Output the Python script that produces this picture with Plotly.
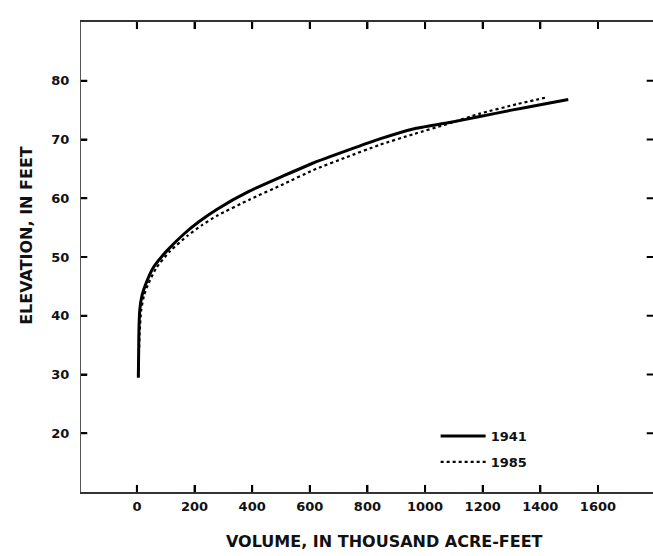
import plotly.graph_objects as go

# Data (volume in thousand acre-feet, elevation in feet)
vol_1941 = [5, 6, 7, 10, 18, 30, 57, 103, 165, 215, 277, 392, 508, 612, 728, 843, 959, 1075, 1190, 1300, 1400, 1497]
elev_1941 = [29.5, 33.5, 37.5, 41.0, 43.5, 45.3, 48.2, 51.0, 54.0, 56.0, 58.1, 61.25, 63.8, 66.0, 68.1, 70.1, 71.8, 72.8, 73.9, 75.0, 75.9, 76.8]

vol_1985 = [5, 7, 10, 15, 25, 40, 68, 115, 175, 225, 277, 392, 508, 612, 728, 843, 959, 1075, 1190, 1317, 1416]
elev_1985 = [29.5, 33.5, 37.5, 41.0, 43.5, 45.5, 48.2, 51.0, 53.6, 55.4, 57.0, 59.8, 62.4, 64.8, 67.0, 69.1, 70.9, 72.6, 74.4, 76.0, 77.1]

x_ticks = [0, 200, 400, 600, 800, 1000, 1200, 1400, 1600]
y_ticks = [20, 30, 40, 50, 60, 70, 80]
x_range = [-194, 1791]
y_range = [10, 90]

FONT = "DejaVu Sans"
INK = "#000000"

fig = go.Figure()
fig.add_trace(go.Scatter(x=vol_1941, y=elev_1941, mode="lines", name="1941",
                         line=dict(color=INK, width=3, shape="spline", smoothing=0.5),
                         legendgroup="a"))
fig.add_trace(go.Scatter(x=vol_1985, y=elev_1985, mode="lines", name="1985",
                         line=dict(color=INK, width=2.2, dash="dot", shape="spline", smoothing=0.5),
                         legendgroup="b"))

tickfont = dict(family=FONT, size=13, color="#111111", weight="bold")
tick_line = dict(color=INK, width=2)

# Inward tick marks on all four sides, placed through the axes at the tick values
TX = 0.015   # tick length as a fraction of the plot height
TY = 0.011   # tick length as a fraction of the plot width
tick_shapes = []
for v in x_ticks:
    tick_shapes.append(dict(type="line", xref="x", yref="paper",
                            x0=v, x1=v, y0=0, y1=TX, line=tick_line, layer="above"))
    tick_shapes.append(dict(type="line", xref="x", yref="paper",
                            x0=v, x1=v, y0=1, y1=1 - TX, line=tick_line, layer="above"))
for v in y_ticks:
    tick_shapes.append(dict(type="line", xref="paper", yref="y",
                            x0=0, x1=TY, y0=v, y1=v, line=tick_line, layer="above"))
    tick_shapes.append(dict(type="line", xref="paper", yref="y",
                            x0=1 - TY, x1=1, y0=v, y1=v, line=tick_line, layer="above"))

fig.update_layout(
    template="none",
    width=653, height=556,
    margin=dict(l=81, r=0, t=22, b=64),
    paper_bgcolor="white", plot_bgcolor="white",
    showlegend=True,
    legend=dict(x=0.62, y=0.151, xanchor="left", yanchor="top",
                font=dict(family=FONT, size=13, color="#111111", weight="bold"),
                bgcolor="rgba(0,0,0,0)", itemwidth=45, tracegroupgap=6),
    xaxis=dict(range=x_range, tickmode="array", tickvals=x_ticks,
               ticks="inside", ticklen=7, tickwidth=2, tickcolor=INK,
               showline=True, mirror="ticks", linecolor="#333333", linewidth=1.5,
               showgrid=False, zeroline=False, tickfont=tickfont, ticklabelstandoff=2),
    yaxis=dict(range=y_range, tickmode="array", tickvals=y_ticks,
               ticks="inside", ticklen=6, tickwidth=2, tickcolor=INK,
               showline=True, mirror=False, linecolor="#555555", linewidth=1.2,
               showgrid=False, zeroline=False, tickfont=tickfont, ticklabelstandoff=8),
    shapes=tick_shapes,
    annotations=[
        dict(text="VOLUME, IN THOUSAND ACRE-FEET", xref="paper", yref="paper",
             x=0.53, y=-0.106, xanchor="center", yanchor="middle", showarrow=False,
             font=dict(family=FONT, size=16, color="#111111", weight="bold")),
        dict(text="ELEVATION, IN FEET", xref="paper", yref="paper",
             x=-0.0944, y=0.545, xanchor="center", yanchor="middle", showarrow=False,
             textangle=-90,
             font=dict(family=FONT, size=16, color="#111111", weight="bold")),
    ],
)

fig.write_html("out.html", config={"displayModeBar": False},
               post_script="document.body.style.margin='0';")
